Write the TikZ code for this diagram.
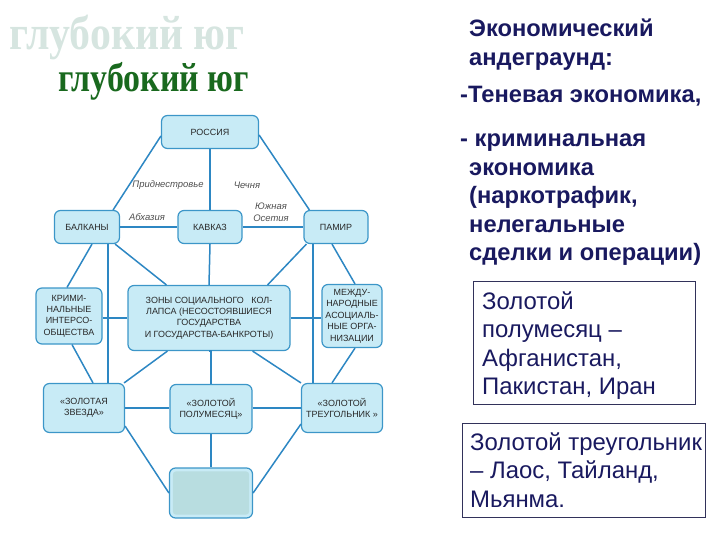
\documentclass[tikz,border=0pt]{standalone}
\usepackage{fontspec}
\setmainfont{Liberation Sans}
\newfontfamily\titlefont{Liberation Serif}
\usetikzlibrary{calc}
\definecolor{nfill}{RGB}{200,235,246}
\definecolor{nedge}{RGB}{60,150,200}
\definecolor{lblue}{RGB}{45,135,195}
\definecolor{ntext}{RGB}{40,40,40}
\definecolor{lgray}{RGB}{80,80,80}
\definecolor{bfill}{RGB}{184,221,224}
\definecolor{navy}{RGB}{25,25,95}
\definecolor{bedge}{RGB}{50,50,90}
\definecolor{tgreen}{RGB}{25,105,30}
\definecolor{ghost}{RGB}{214,229,224}
\begin{document}
\begin{tikzpicture}[x=1bp,y=-1bp,
  box/.style={draw=nedge, fill=nfill, line width=1.2bp, rounded corners=6bp, inner sep=0pt,
    font=\fontsize{9}{11.5}\selectfont, text=ntext, align=center},
  conn/.style={draw=lblue, line width=1.5bp},
  lbl/.style={font=\itshape\fontsize{9.5}{12}\selectfont, text=lgray, align=center, inner sep=0pt},
  rtb/.style={font=\bfseries\fontsize{23.8}{27}\selectfont, text=navy, inner sep=0pt, anchor=base west},
  rtn/.style={font=\fontsize{24}{27}\selectfont, text=navy, inner sep=0pt, anchor=base west},
  rbox/.style={draw=bedge, line width=1bp, inner sep=0pt}]
\useasboundingbox (0,0) rectangle (720,540);

% titles
\node[font=\titlefont\bfseries\fontsize{42}{44}\selectfont, text=ghost, inner sep=0pt, anchor=base west] (ghost) at (9,50) {\scalebox{1}[1.15]{глубокий юг}};
\node[font=\titlefont\bfseries\fontsize{34}{36}\selectfont, text=tgreen, inner sep=0pt, anchor=base west] (title) at (58,92) {\scalebox{1}[1.2]{глубокий юг}};

% diagram nodes
\node[box, minimum width=97bp, minimum height=33bp] (rus) at (210,132) {РОССИЯ};
\node[box, minimum width=65bp, minimum height=33bp] (bal) at (87,227) {БАЛКАНЫ};
\node[box, minimum width=64bp, minimum height=33bp] (kav) at (210,227) {КАВКАЗ};
\node[box, minimum width=64bp, minimum height=33bp] (pam) at (336,227) {ПАМИР};
\node[box, minimum width=66bp, minimum height=56bp] (krim) at (69,316) {КРИМИ-\\НАЛЬНЫЕ\\ИНТЕРСО-\\ОБЩЕСТВА};
\node[box, minimum width=162bp, minimum height=65bp] (zon) at (209,318) {ЗОНЫ СОЦИАЛЬНОГО\ \ \ КОЛ-\\ЛАПСА (НЕСОСТОЯВШИЕСЯ\\ГОСУДАРСТВА\\И ГОСУДАРСТВА-БАНКРОТЫ)};
\node[box, minimum width=60bp, minimum height=63bp] (mez) at (352,316) {МЕЖДУ-\\НАРОДНЫЕ\\АСОЦИАЛЬ-\\НЫЕ ОРГА-\\НИЗАЦИИ};
\node[box, minimum width=81bp, minimum height=49bp] (zvz) at (84,408) {«ЗОЛОТАЯ\\ЗВЕЗДА»};
\node[box, minimum width=82bp, minimum height=49bp] (pol) at (211,409) {«ЗОЛОТОЙ\\ПОЛУМЕСЯЦ»};
\node[box, minimum width=81bp, minimum height=49bp] (tri) at (342,408) {«ЗОЛОТОЙ\\ТРЕУГОЛЬНИК »};
\node[box, minimum width=83bp, minimum height=50bp] (bot) at (211,493) {};
\fill[bfill, rounded corners=3bp] ([shift={(4,4)}]bot.north west) rectangle ([shift={(-4,-4)}]bot.south east);

% connectors
\draw[conn] ([yshift=-4bp]rus.west) -- ([xshift=-7bp]bal.north east);
\draw[conn] (rus.south) -- (kav.north);
\draw[conn] ([yshift=-3bp]rus.east) -- ([xshift=6bp]pam.north west);
\draw[conn] (bal.east) -- (kav.west);
\draw[conn] (kav.east) -- (pam.west);
\draw[conn] (kav.south) -- (zon.north);
\draw[conn] ([xshift=5bp]bal.south) -- ([xshift=-2bp]krim.north);
\draw[conn] ([xshift=21bp]bal.south) coordinate (bv) -- (bv |- zvz.north);
\draw[conn] ([xshift=-5bp]bal.south east) -- ([xshift=39bp]zon.north west);
\draw[conn] ([xshift=3bp]pam.south west) -- ([xshift=-23bp]zon.north east);
\draw[conn] ([xshift=-23bp]pam.south) coordinate (pv) -- (pv |- tri.north);
\draw[conn] ([xshift=-4bp]pam.south) -- ([xshift=3bp]mez.north);
\draw[conn] (krim.east |- zon.west) -- (zon.west);
\draw[conn] (zon.east) -- (mez.west |- zon.east);
\draw[conn] ([xshift=3bp]krim.south) -- ([xshift=9bp]zvz.north);
\draw[conn] ([xshift=40bp]zon.south west) -- ([xshift=-1bp]zvz.north east);
\draw[conn] (zon.south) -- (zon.south -| pol.north) -- (pol.north);
\draw[conn] ([xshift=-38bp]zon.south east) -- (tri.north west);
\draw[conn] ([xshift=3bp]mez.south) -- ([xshift=-10bp]tri.north);
\draw[conn] (zvz.east) -- (zvz.east -| pol.west);
\draw[conn] (pol.east |- tri.west) -- (tri.west);
\draw[conn] (pol.south) -- (bot.north);
\draw[conn] ([yshift=7bp]zvz.south east) -- (bot.west);
\draw[conn] ([yshift=9bp]tri.south west) -- (bot.east);

% labels
\node[lbl] (l1) at (168,185) {Приднестровье};
\node[lbl] (l2) at (247,185) {Чечня};
\node[lbl] (l3) at (147,217) {Абхазия};
\node[lbl] (l4) at (271,212) {Южная\\Осетия};

% right text
\node[rtb] (e1) at (469,37) {Экономический};
\node[rtb] (e2) at (469,65.5) {андеграунд:};
\node[rtb] (e3) at (460,103) {-Теневая экономика,};
\node[rtb] (e4) at (460,147) {- криминальная};
\node[rtb] (e5) at (469,175.5) {экономика};
\node[rtb] (e6) at (469,204) {(наркотрафик,};
\node[rtb] (e7) at (469,232.5) {нелегальные};
\node[rtb] (e8) at (469,261) {сделки и операции)};

% right boxes
\node[rbox, minimum width=222bp, minimum height=122bp] (b1) at (584,343) {};
\node[rtn] (g1) at (482,309) {Золотой};
\node[rtn] (g2) at (482,337.5) {полумесяц –};
\node[rtn] (g3) at (482,366) {Афганистан,};
\node[rtn] (g4) at (482,394.5) {Пакистан, Иран};
\node[rbox, minimum width=243bp, minimum height=94bp] (b2) at (583.5,470) {};
\node[rtn] (h1) at (470,450) {Золотой треугольник};
\node[rtn] (h2) at (470,478.5) {– Лаос, Тайланд,};
\node[rtn] (h3) at (470,507) {Мьянма.};
\end{tikzpicture}
\end{document}
